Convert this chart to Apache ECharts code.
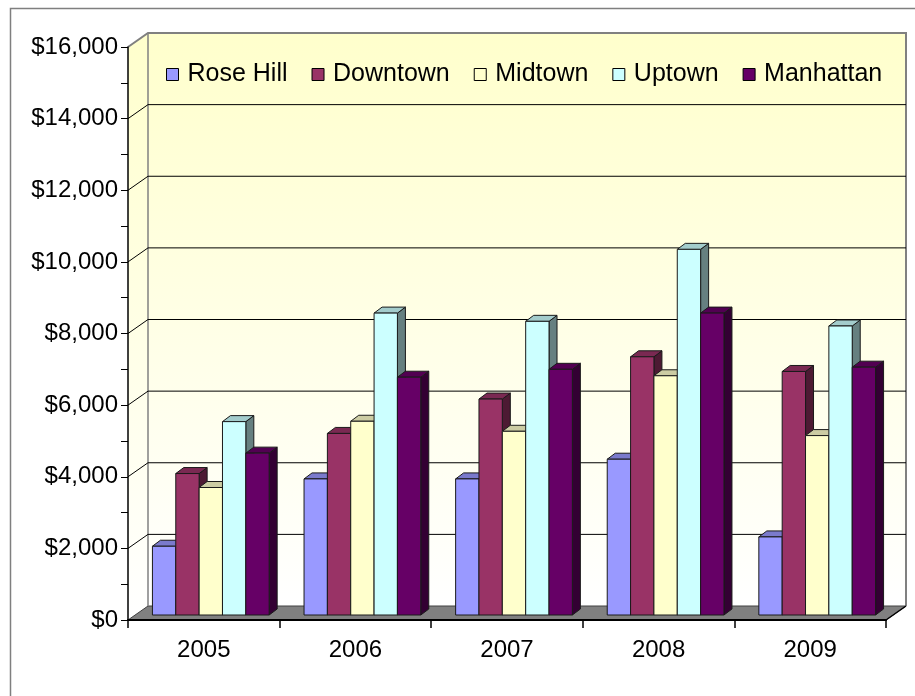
<!DOCTYPE html>
<html>
<head>
<meta charset="utf-8">
<script src="https://cdn.jsdelivr.net/npm/echarts@6/dist/echarts.min.js"></script>
<style>
  html, body { margin: 0; padding: 0; background: #ffffff; }
  #chart { width: 915px; height: 696px; }
</style>
</head>
<body>
<div id="chart"></div>
<script>
// Categories and values per neighbourhood
const years = ['2005', '2006', '2007', '2008', '2009'];
const roseHill  = [1920, 3800, 3800, 4350, 2180];
const downtown  = [3950, 5070, 6030, 7210, 6800];
const midtown   = [3560, 5410, 5130, 6680, 5010];
const uptown    = [5400, 8430, 8200, 10210, 8070];
const manhattan = [4520, 6640, 6860, 8430, 6920];
const valueTicks = [0, 2000, 4000, 6000, 8000, 10000, 12000, 14000, 16000];

const seriesDefs = [
  { name: 'Rose Hill', data: roseHill,  color: '#9999FF' },
  { name: 'Downtown',  data: downtown,  color: '#993366' },
  { name: 'Midtown',   data: midtown,   color: '#FFFFCC' },
  { name: 'Uptown',    data: uptown,    color: '#CCFFFF' },
  { name: 'Manhattan', data: manhattan, color: '#660066' }
];

// pseudo-3D geometry (pixels)
const WALL_DX = 20, WALL_DY = -14;   // back wall offset from the front plane
const BAR_DX = 7, BAR_DY = -5;       // bar front face offset
const DEPTH_X = 8, DEPTH_Y = -6;     // bar depth
const BAR_FRAC = 0.154;              // bar width as share of a category band
const EDGE = '#1a1a1a';
const FONT = 'Liberation Sans, Arial, sans-serif';

function shade(hex, k) {
  const n = parseInt(hex.slice(1), 16);
  const r = Math.round(((n >> 16) & 255) * k);
  const g = Math.round(((n >> 8) & 255) * k);
  const b = Math.round((n & 255) * k);
  return 'rgb(' + r + ',' + g + ',' + b + ')';
}

function money(v) {
  return '$' + String(v).replace(/\B(?=(\d{3})+(?!\d))/g, ',');
}

const wallFill = () => new echarts.graphic.LinearGradient(0, 0, 0, 1, [
  { offset: 0, color: '#FFFFCC' },
  { offset: 1, color: '#FFFFFF' }
]);

function renderWalls(params, api) {
  const cs = params.coordSys;
  const L = cs.x, R = cs.x + cs.width, T = cs.y, B = cs.y + cs.height;
  return {
    type: 'group',
    children: [
      { type: 'polygon', shape: { points: [[L, T], [L + WALL_DX, T + WALL_DY], [L + WALL_DX, B + WALL_DY], [L, B]] },
        style: { fill: wallFill() } },
      { type: 'rect', shape: { x: L + WALL_DX, y: T + WALL_DY, width: cs.width, height: cs.height },
        style: { fill: wallFill() } },
      { type: 'polygon', shape: { points: [[L, B], [L + WALL_DX, B + WALL_DY], [R + WALL_DX, B + WALL_DY], [R, B]] },
        style: { fill: '#808080', stroke: '#404040', lineWidth: 1 } },
      { type: 'polyline', shape: { points: [[L, T], [L + WALL_DX, T + WALL_DY], [R + WALL_DX, T + WALL_DY], [R + WALL_DX, B + WALL_DY]] },
        style: { fill: null, stroke: '#808080', lineWidth: 2 } },
      { type: 'line', shape: { x1: L + WALL_DX, y1: T + WALL_DY, x2: L + WALL_DX, y2: B + WALL_DY },
        style: { stroke: '#808080', lineWidth: 1.5 } },
      { type: 'line', shape: { x1: R + WALL_DX, y1: B + WALL_DY, x2: R, y2: B },
        style: { stroke: '#000', lineWidth: 1.5 } }
    ]
  };
}

function renderGridLine(params, api) {
  const cs = params.coordSys;
  const L = cs.x, R = cs.x + cs.width;
  const y = api.coord([0, api.value(1)])[1];
  return {
    type: 'polyline',
    shape: { points: [[L, y], [L + WALL_DX, y + WALL_DY], [R + WALL_DX, y + WALL_DY]] },
    style: { fill: null, stroke: '#000', lineWidth: 1 }
  };
}

function barRenderer(slot, color) {
  const topColor = shade(color, 0.8);
  const sideColor = shade(color, 0.5);
  return function (params, api) {
    const c = api.value(0), v = api.value(1);
    const p0 = api.coord([c, 0]);
    const p1 = api.coord([c, v]);
    const band = api.size([1, 0])[0];
    const bw = band * BAR_FRAC;
    const xl = p0[0] - 2.5 * bw + slot * bw + BAR_DX;
    const xr = xl + bw;
    const yb = p0[1] + BAR_DY, yt = p1[1] + BAR_DY;
    return {
      type: 'group',
      children: [
        { type: 'polygon',
          shape: { points: [[xr, yt], [xr + DEPTH_X, yt + DEPTH_Y], [xr + DEPTH_X, yb + DEPTH_Y], [xr, yb]] },
          style: { fill: sideColor, stroke: EDGE, lineWidth: 1 } },
        { type: 'polygon',
          shape: { points: [[xl, yt], [xl + DEPTH_X, yt + DEPTH_Y], [xr + DEPTH_X, yt + DEPTH_Y], [xr, yt]] },
          style: { fill: topColor, stroke: EDGE, lineWidth: 1 } },
        { type: 'rect',
          shape: { x: xl, y: yt, width: bw, height: yb - yt },
          style: { fill: color, stroke: EDGE, lineWidth: 1 } }
      ]
    };
  };
}

const series = [
  { type: 'custom', name: 'walls', silent: true, clip: false, z: 1,
    data: [[0, 0]], encode: { x: 0, y: 1 }, renderItem: renderWalls },
  { type: 'custom', name: 'gridlines', silent: true, clip: false, z: 1,
    data: valueTicks.slice(1, -1).map(v => [0, v]), encode: { x: 0, y: 1 }, renderItem: renderGridLine }
];
seriesDefs.forEach((s, i) => {
  series.push({
    type: 'custom', name: s.name, clip: false, z: 2 + i * 0.01,
    itemStyle: { color: s.color },
    data: s.data.map((v, j) => [j, v]),
    encode: { x: 0, y: 1 },
    renderItem: barRenderer(i, s.color)
  });
});

const chart = echarts.init(document.getElementById('chart'), null, { renderer: 'canvas' });
chart.setOption({
  animation: false,
  backgroundColor: '#ffffff',
  graphic: [{
    type: 'rect', z: 0, silent: true,
    shape: { x: 10.5, y: 8.5, width: 920, height: 700 },
    style: { fill: null, stroke: '#7f7f7f', lineWidth: 1.5 }
  }],
  legend: {
    data: seriesDefs.map(s => s.name),
    left: 161, top: 57,
    icon: 'rect', itemWidth: 12, itemHeight: 12, itemGap: 24,
    itemStyle: { borderColor: '#000', borderWidth: 1 },
    textStyle: { fontFamily: FONT, fontSize: 25, color: '#000', padding: [0, 0, 0, 4] }
  },
  grid: { left: 128, top: 47, width: 758, height: 573, containLabel: false },
  xAxis: {
    type: 'category', data: years, boundaryGap: true, z: 10,
    axisLine: { show: true, lineStyle: { color: '#000', width: 2 } },
    axisTick: { show: true, length: 8, lineStyle: { color: '#000', width: 1.5 } },
    axisLabel: { fontFamily: FONT, fontSize: 24, color: '#000', margin: 18 }
  },
  yAxis: {
    type: 'value', min: 0, max: 16000, interval: 2000, z: 10,
    axisLine: { show: true, lineStyle: { color: '#000', width: 1.5 } },
    axisTick: { show: true, length: 7, lineStyle: { color: '#000', width: 1 } },
    minorTick: { show: true, splitNumber: 2, length: 7, lineStyle: { color: '#000', width: 1 } },
    splitLine: { show: false },
    axisLabel: { fontFamily: FONT, fontSize: 24, color: '#000', margin: 10, formatter: money }
  },
  series: series
});
</script>
</body>
</html>
